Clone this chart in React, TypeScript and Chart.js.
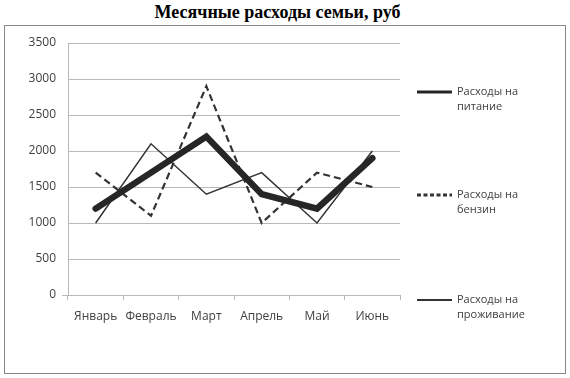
import React, { useEffect, useRef } from "react";
import { Chart, registerables } from "chart.js";

Chart.register(...registerables);

const TITLE = "Месячные расходы семьи, руб";
const categories = ["Январь", "Февраль", "Март", "Апрель", "Май", "Июнь"];
const foodValues = [1200, 1700, 2200, 1400, 1200, 1900];
const fuelValues = [1700, 1100, 2900, 1000, 1700, 1500];
const housingValues = [1000, 2100, 1400, 1700, 1000, 2000];
const seriesLabels = [["Расходы на", "питание"], ["Расходы на", "бензин"], ["Расходы на", "проживание"]];
const yMin = 0;
const yMax = 3500;
const yStep = 500;

const FONT = "'Open Sans', 'Noto Sans', sans-serif";
const TEXT = "#404040";
const GRID = "#b8b8b8";

const legendPlugin = {
  id: "sideLegend",
  afterDraw(chart: any) {
    const ctx = chart.ctx;
    const area = chart.chartArea;
    const x0 = area.right + 17;
    const ys = [66, 169, 274];
    const widths = [3, 3, 2];
    ctx.save();
    chart.data.datasets.forEach((ds: any, i: number) => {
      const y = ys[i];
      ctx.beginPath();
      ctx.strokeStyle = ds.borderColor;
      ctx.lineWidth = widths[i];
      ctx.setLineDash(ds.borderDash && ds.borderDash.length ? [4, 2.5] : []);
      ctx.moveTo(x0, y);
      ctx.lineTo(x0 + 35, y);
      ctx.stroke();
      ctx.setLineDash([]);
      ctx.fillStyle = TEXT;
      ctx.font = `11px ${FONT}`;
      ctx.textBaseline = "middle";
      ctx.textAlign = "left";
      const lines = seriesLabels[i];
      lines.forEach((t, j) => ctx.fillText(t, x0 + 40, y + j * 15));
    });
    ctx.restore();
  },
};

export default function App() {
  const ref = useRef<HTMLCanvasElement | null>(null);
  useEffect(() => {
    if (!ref.current) return;
    const chart = new Chart(ref.current, {
      type: "line",
      data: {
        labels: categories,
        datasets: [
          {
            label: seriesLabels[0].join(" "),
            data: foodValues,
            borderColor: "#262626",
            borderWidth: 6.5,
            borderCapStyle: "round",
            borderJoinStyle: "miter",
            pointRadius: 0,
            tension: 0,
          },
          {
            label: seriesLabels[1].join(" "),
            data: fuelValues,
            borderColor: "#333333",
            borderWidth: 2.2,
            borderDash: [7, 4],
            pointRadius: 0,
            tension: 0,
          },
          {
            label: seriesLabels[2].join(" "),
            data: housingValues,
            borderColor: "#333333",
            borderWidth: 1.5,
            pointRadius: 0,
            tension: 0,
          },
        ],
      },
      options: {
        animation: false,
        responsive: false,
        maintainAspectRatio: false,
        layout: { padding: { left: 0, top: 17, right: 165, bottom: 0 } },
        plugins: { legend: { display: false }, title: { display: false }, tooltip: { enabled: false } },
        scales: {
          x: {
            type: "category",
            offset: true,
            grid: { display: true, drawOnChartArea: false, offset: true, tickLength: 5, color: GRID },
            border: { color: GRID },
            ticks: { color: TEXT, font: { family: FONT, size: 12 }, padding: 9, maxRotation: 0 },
            afterFit: (s: any) => { s.height = 78; },
          },
          y: {
            min: yMin,
            max: yMax,
            ticks: {
              stepSize: yStep,
              color: TEXT,
              font: { family: FONT, size: 12 },
              padding: 6,
              callback: (v: any) => String(v),
            },
            grid: {
              color: GRID,
              tickLength: 6,
              tickColor: (c: any) => (c.tick && c.tick.value === 0 ? GRID : "rgba(0,0,0,0)"),
            },
            border: { color: GRID },
            afterFit: (s: any) => { s.width = 63; },
          },
        },
      },
      plugins: [legendPlugin],
    });
    return () => chart.destroy();
  }, []);

  return (
    <div style={{ position: "fixed", left: 0, top: 0, width: 570, height: 378, background: "#fff" }}>
      <div
        style={{
          position: "absolute",
          left: 0,
          top: 2,
          width: 555,
          textAlign: "center",
          fontFamily: "'Liberation Serif', 'Times New Roman', serif",
          fontWeight: "bold",
          fontSize: 18,
          lineHeight: "20px",
          color: "#000",
        }}
      >
        {TITLE}
      </div>
      <div
        style={{
          position: "absolute",
          left: 4,
          top: 25,
          width: 562,
          height: 349,
          border: "1px solid #888",
          boxSizing: "border-box",
        }}
      >
        <canvas ref={ref} width={560} height={347} style={{ position: "absolute", left: 0, top: 0, width: 560, height: 347 }} />
      </div>
    </div>
  );
}
